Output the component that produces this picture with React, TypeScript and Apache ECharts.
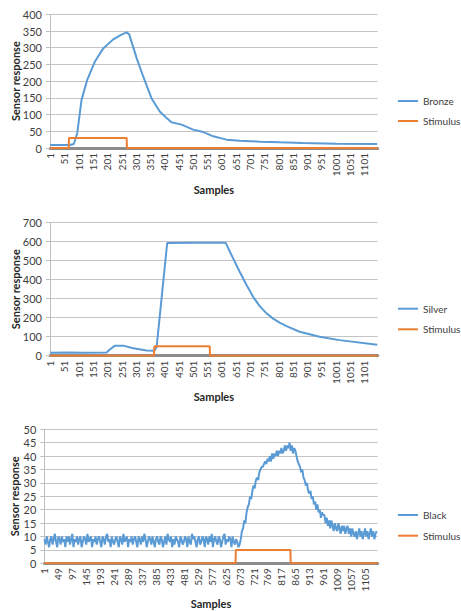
import { useEffect, useRef } from "react";
import * as echarts from "echarts";

const SAMPLE_COUNT = 1148;
const SAMPLES = Array.from({ length: SAMPLE_COUNT }, (_, i) => String(i + 1));

const PANEL_SERIES = ["Bronze", "Silver", "Black"];
const STIMULUS = "Stimulus";
const Y_MAX = [400, 700, 50];
const Y_STEP = [50, 100, 5];
const X_LABEL_EVERY = [50, 50, 48];

const BRONZE_X = [1, 70, 84, 96, 111, 131, 158, 187, 222, 251, 269, 278, 304, 327, 356, 385, 409, 426, 461, 502, 537, 572, 619, 665, 735, 805, 886, 1004, 1147];
const BRONZE_Y = [9, 9, 12, 45, 144, 204, 259, 298, 325, 339, 346, 340, 269, 214, 149, 109, 90, 77, 70, 55, 48, 35, 25, 22, 19, 17, 15, 13, 12];

const SILVER_X = [1, 60, 120, 199, 210, 228, 257, 292, 339, 366, 374, 411, 500, 616, 642, 665, 689, 712, 735, 759, 782, 805, 829, 875, 945, 1015, 1147];
const SILVER_Y = [16, 17, 15, 17, 33, 53, 53, 39, 27, 26, 45, 593, 594, 594, 512, 442, 372, 310, 261, 223, 195, 174, 156, 126, 100, 82, 58];

// Black response, one reading every BLACK_STEP samples starting at sample 1
const BLACK_STEP = 4;
const BLACK_Y = [
  9, 7, 10, 8, 6, 9, 10, 7, 9, 11, 8, 6, 10, 9, 7, 10, 8, 9, 6, 10,
  8, 10, 7, 9, 11, 6, 9, 8, 10, 7, 9, 10, 6, 8, 10, 9, 7, 11, 8, 9,
  10, 6, 9, 8, 10, 7, 9, 10, 8, 6, 10, 9, 7, 10, 11, 8, 9, 6, 10, 8,
  7, 9, 10, 8, 6, 10, 9, 7, 11, 8, 9, 10, 6, 9, 8, 10, 7, 9, 10, 8,
  6, 10, 9, 7, 10, 8, 11, 9, 6, 8, 10, 9, 7, 10, 8, 6, 9, 10, 8, 7,
  10, 9, 6, 8, 10, 7, 11, 9, 8, 10, 6, 9, 7, 10, 9, 8, 6, 10, 9, 7,
  8, 10, 9, 6, 10, 8, 7, 11, 9, 10, 8, 6, 9, 10, 7, 8, 10, 9, 6, 10,
  9, 7, 10, 8, 11, 6, 9, 10, 8, 7, 10, 9, 6, 8, 10, 11, 7, 9, 8, 10,
  9, 6, 10, 8, 7, 9,
  8, 6, 7, 9, 12, 13, 16, 15, 19, 21,
  22, 25, 24, 27, 29, 28, 31, 32, 31, 34,
  35, 36, 36, 37, 38, 37, 39, 38, 40, 38,
  41, 39, 41, 40, 42, 40, 42, 41, 43, 41,
  42, 44, 42, 44, 43, 45, 42, 44, 41, 43,
  42, 40, 38, 37, 36, 34, 35, 32, 31, 29,
  30, 27, 26, 27, 24, 25, 22, 23, 20, 22,
  19, 20, 17, 19, 18, 18, 15, 17, 14, 16,
  13, 16, 14, 12, 15, 13, 12, 15, 13, 11,
  14, 12, 14, 11, 13, 14, 11, 13, 10, 13,
  11, 10, 12, 9, 11, 13, 10, 12, 9, 11,
  13, 10, 12, 9, 11, 13, 10, 12, 9, 11,
  12,
];

const STIM_X = [
  [1, 66, 67, 269, 270, 1148],
  [1, 365, 366, 560, 561, 1148],
  [1, 659, 660, 848, 849, 1148],
];
const STIM_Y = [
  [0, 0, 30, 30, 0, 0],
  [0, 0, 50, 50, 0, 0],
  [0, 0, 5, 5, 0, 0],
];

const BLUE = "#5b9bd5";
const ORANGE = "#ed7d31";
const FONT = "Lato, 'Liberation Sans', sans-serif";

const pairs = (xs: number[], ys: number[]) => xs.map((x, i) => [x - 1, ys[i]]);

export default function App() {
  const ref = useRef<HTMLDivElement>(null);
  useEffect(() => {
    if (!ref.current) return;
    const chart = echarts.init(ref.current, undefined, { renderer: "svg" });

    const grids = [
      { left: 50, top: 14.3, width: 327.7, height: 133.7, outerBoundsMode: "none" },
      { left: 50, top: 222.7, width: 327.7, height: 133, outerBoundsMode: "none" },
      { left: 44.3, top: 429.3, width: 333.4, height: 134, outerBoundsMode: "none" },
    ];
    const yNameGap = [29, 29, 24];
    const xNameGap = [36, 35.5, 34.5];
    const legendTop = [90, 297.7, 504];
    const legendGap = [8, 8.6, 8.7];

    const sensorData = [
      pairs(BRONZE_X, BRONZE_Y),
      pairs(SILVER_X, SILVER_Y),
      BLACK_Y.map((v, i) => [i * BLACK_STEP, v]),
    ];

    const series: any[] = [];
    [0, 1, 2].forEach((p) => {
      series.push({
        name: PANEL_SERIES[p],
        type: "line",
        xAxisIndex: p,
        yAxisIndex: p,
        data: sensorData[p],
        showSymbol: false,
        symbol: "none",
        lineStyle: { color: BLUE, width: 2 },
        itemStyle: { color: BLUE },
        z: 2,
      });
      series.push({
        name: STIMULUS,
        type: "line",
        xAxisIndex: p,
        yAxisIndex: p,
        data: pairs(STIM_X[p], STIM_Y[p]),
        showSymbol: false,
        symbol: "none",
        lineStyle: { color: ORANGE, width: 2 },
        itemStyle: { color: ORANGE },
        z: 3,
      });
    });

    chart.setOption({
      animation: false,
      backgroundColor: "#ffffff",
      textStyle: { fontFamily: FONT },
      grid: grids,
      xAxis: [0, 1, 2].map((p) => ({
        type: "category",
        gridIndex: p,
        data: SAMPLES,
        boundaryGap: true,
        name: "Samples",
        nameLocation: "middle",
        nameGap: xNameGap[p],
        nameMoveOverlap: false,
        nameTextStyle: { fontFamily: FONT, fontWeight: "bold", fontSize: 11, color: "#262626" },
        axisLine: { show: true, lineStyle: { color: "#8c8c8c", width: 3 } },
        axisTick: { show: false },
        axisLabel: {
          interval: X_LABEL_EVERY[p] - 1,
          rotate: 90,
          margin: 5,
          fontFamily: FONT,
          fontSize: 10,
          color: "#404040",
        },
        splitLine: { show: false },
      })),
      yAxis: [0, 1, 2].map((p) => ({
        type: "value",
        gridIndex: p,
        min: 0,
        max: Y_MAX[p],
        interval: Y_STEP[p],
        name: "Sensor response",
        nameLocation: "middle",
        nameGap: yNameGap[p],
        nameMoveOverlap: false,
        nameTextStyle: { fontFamily: FONT, fontWeight: "bold", fontSize: 11, color: "#262626" },
        axisLine: { show: true, lineStyle: { color: "#bfbfbf", width: 1 } },
        axisTick: { show: true, length: 4, lineStyle: { color: "#bfbfbf" } },
        axisLabel: { fontFamily: FONT, fontSize: 11, color: "#404040", margin: 8 },
        splitLine: { show: true, lineStyle: { color: "#c4c4c4", width: 1 } },
      })),
      legend: [0, 1, 2].map((p) => ({
        orient: "vertical",
        left: 393,
        top: legendTop[p],
        itemGap: legendGap[p],
        itemWidth: 20,
        itemHeight: 2,
        icon: "rect",
        data: [
          { name: PANEL_SERIES[p], itemStyle: { color: BLUE } },
          { name: STIMULUS, itemStyle: { color: ORANGE } },
        ],
        textStyle: { fontFamily: FONT, fontSize: 10, lineHeight: 12, color: "#404040" },
        selectedMode: false,
      })),
      series,
    });

    return () => chart.dispose();
  }, []);

  return (
    <div
      ref={ref}
      style={{ position: "fixed", left: 0, top: 0, width: 461, height: 611, background: "#fff" }}
    />
  );
}
